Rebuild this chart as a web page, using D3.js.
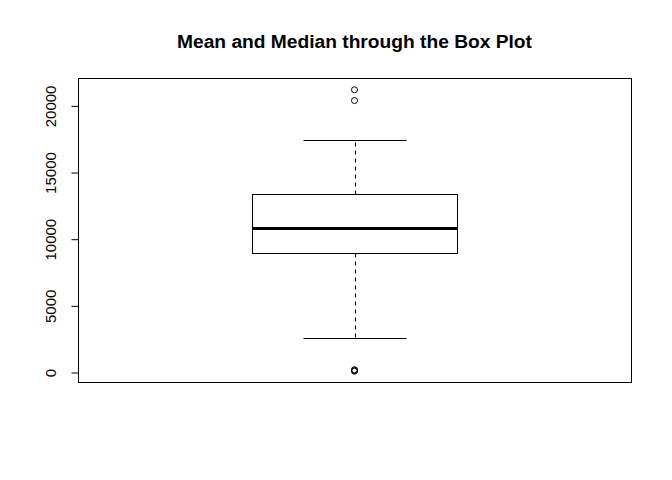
<!DOCTYPE html>
<html>
<head>
<meta charset="utf-8">
<script src="https://cdn.jsdelivr.net/npm/d3@7"></script>
<style>
  body { margin: 0; background: #fff; }
  svg { display: block; }
</style>
</head>
<body>
<svg id="chart" width="672" height="480"></svg>
<script>
// Data
const title = "Mean and Median through the Box Plot";
const boxStats = [2550, 8925, 10800, 13350, 17400]; // lower whisker, Q1, median, Q3, upper whisker
const outliers = [21210, 20400, 94, 150, 210];
const yTicks = [0, 5000, 10000, 15000, 20000];

const svg = d3.select("#chart");
const frame = { left: 78, right: 631, top: 78, bottom: 382 };

const dataMin = d3.min(outliers.concat(boxStats));
const dataMax = d3.max(outliers.concat(boxStats));
const pad = (dataMax - dataMin) * 0.04;

const y = d3.scaleLinear()
  .domain([dataMin - pad, dataMax + pad])
  .range([frame.bottom, frame.top]);
const x = d3.scaleLinear()
  .domain([0.46, 1.54])
  .range([frame.left, frame.right]);

const cx = 1, boxHalf = 0.2, capHalf = 0.1;

// Title
svg.append("text")
  .attr("x", (frame.left + frame.right) / 2)
  .attr("y", 48)
  .attr("text-anchor", "middle")
  .attr("font-family", "Liberation Sans, Arial, sans-serif")
  .attr("font-weight", "bold")
  .attr("font-size", 19.2)
  .attr("fill", "#000")
  .text(title);

// Frame
svg.append("rect")
  .attr("x", frame.left + 0.5).attr("y", frame.top + 0.5)
  .attr("width", frame.right - frame.left).attr("height", frame.bottom - frame.top)
  .attr("fill", "none").attr("stroke", "#000").attr("stroke-width", 1);

// Y axis
const axis = d3.axisLeft(y).tickValues(yTicks).tickFormat(d3.format("d")).tickSize(7).tickPadding(0);
const ag = svg.append("g").attr("transform", `translate(${frame.left + 0.5},0.5)`).call(axis);
ag.select(".domain").attr("d", `M0,${y(yTicks[0])}V${y(yTicks[yTicks.length - 1])}`).attr("stroke", "#000");
ag.selectAll(".tick line").attr("stroke", "#000");
ag.selectAll(".tick text")
  .attr("font-family", "Liberation Sans, Arial, sans-serif")
  .attr("font-size", 15)
  .attr("fill", "#000")
  .attr("text-anchor", "middle")
  .attr("dy", null)
  .attr("x", null)
  .attr("transform", "translate(-28,0) rotate(-90)")
  .attr("dominant-baseline", "central");

const g = svg.append("g").attr("transform", "translate(0.5,0.5)");
const [lw, q1, med, q3, uw] = boxStats;

// Whiskers (dashed)
g.append("line")
  .attr("x1", Math.round(x(cx))).attr("x2", Math.round(x(cx)))
  .attr("y1", Math.round(y(q3))).attr("y2", Math.round(y(uw)))
  .attr("stroke", "#000").attr("stroke-dasharray", "4,4");
g.append("line")
  .attr("x1", Math.round(x(cx))).attr("x2", Math.round(x(cx)))
  .attr("y1", Math.round(y(q1))).attr("y2", Math.round(y(lw)))
  .attr("stroke", "#000").attr("stroke-dasharray", "4,4");

// Whisker caps
[lw, uw].forEach(v => {
  g.append("line")
    .attr("x1", Math.round(x(cx - capHalf))).attr("x2", Math.round(x(cx + capHalf)))
    .attr("y1", Math.round(y(v))).attr("y2", Math.round(y(v)))
    .attr("stroke", "#000");
});

// Box
g.append("rect")
  .attr("x", Math.round(x(cx - boxHalf)))
  .attr("y", Math.round(y(q3)))
  .attr("width", Math.round(x(cx + boxHalf)) - Math.round(x(cx - boxHalf)))
  .attr("height", Math.round(y(q1)) - Math.round(y(q3)))
  .attr("fill", "none").attr("stroke", "#000");

// Median
svg.append("line")
  .attr("x1", Math.round(x(cx - boxHalf))).attr("x2", Math.round(x(cx + boxHalf)) + 1)
  .attr("y1", Math.round(y(med)) + 0.5).attr("y2", Math.round(y(med)) + 0.5)
  .attr("stroke", "#000").attr("stroke-width", 3);

// Outliers
g.selectAll("circle.out").data(outliers).enter().append("circle")
  .attr("class", "out")
  .attr("cx", x(cx) - 0.5)
  .attr("cy", d => y(d))
  .attr("r", 3)
  .attr("fill", "none").attr("stroke", "#000").attr("stroke-width", 1);
</script>
</body>
</html>
